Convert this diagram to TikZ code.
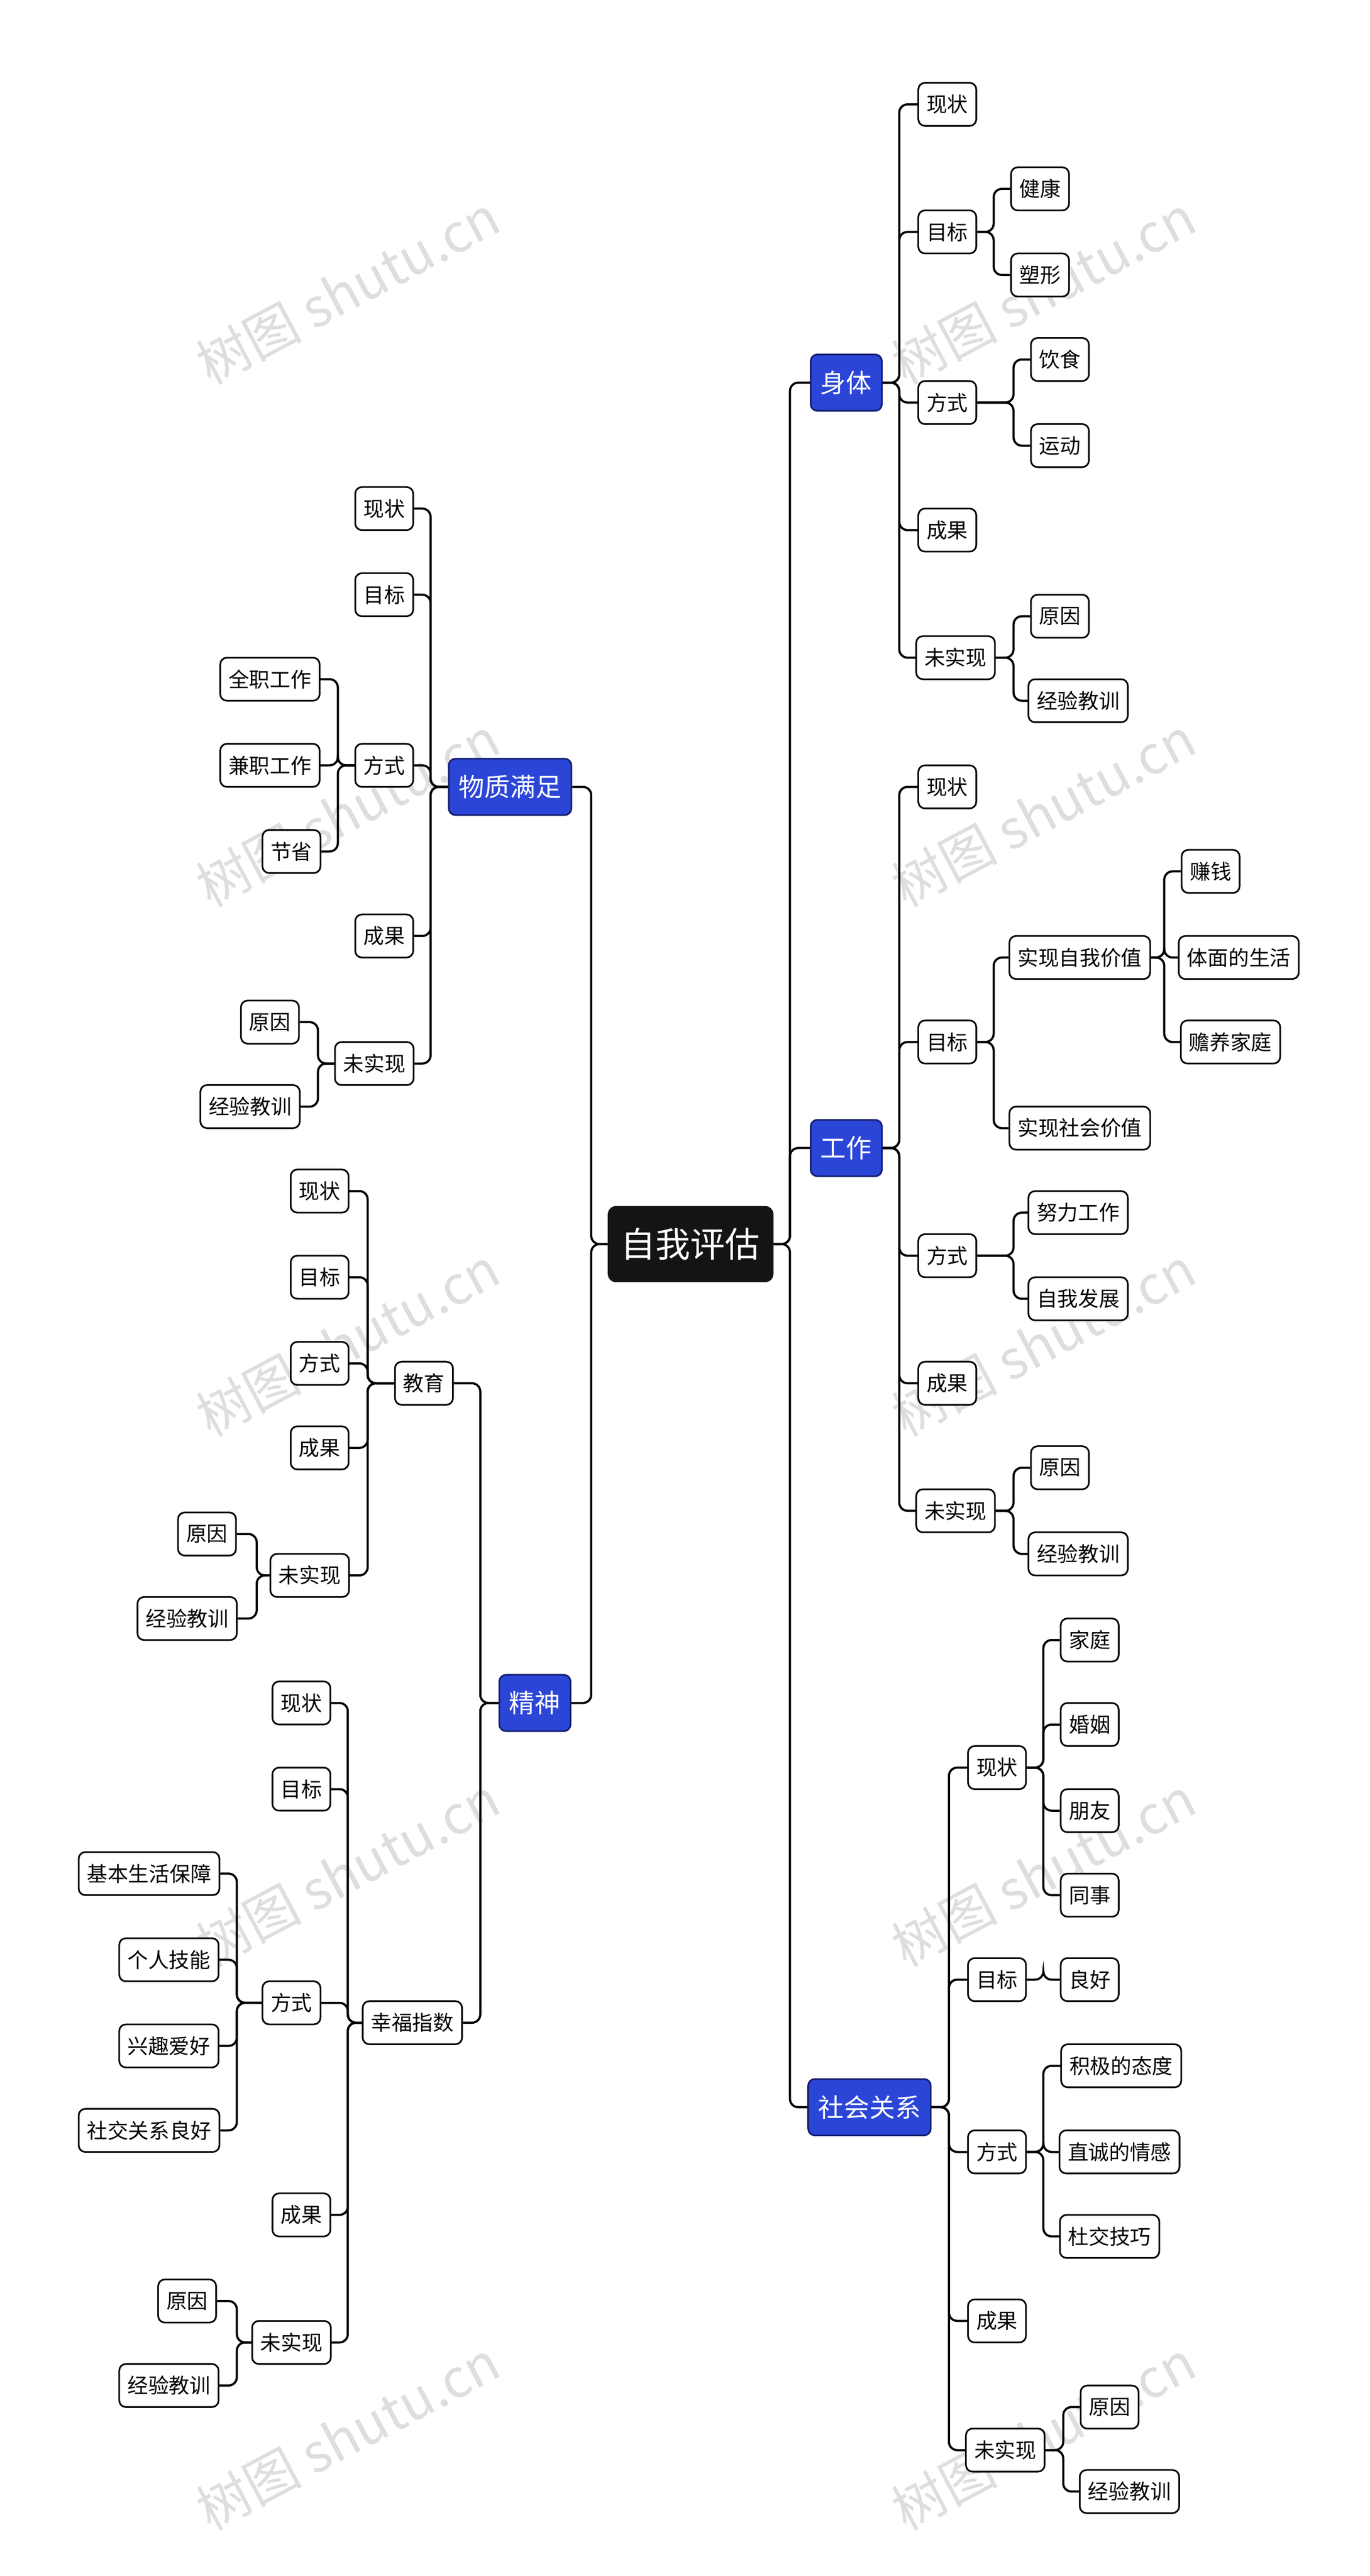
\documentclass[tikz,border=0pt]{standalone}
\usepackage{fontspec}
\setmainfont{Noto Sans CJK SC}
\definecolor{lblue}{RGB}{43,70,215}
\definecolor{lbord}{RGB}{20,30,110}
\begin{document}
\begin{tikzpicture}[x=1pt,y=-1pt,
 leaf/.style={draw=black,line width=1pt,fill=white,rounded corners=4pt,font=\fontsize{12.5}{14}\selectfont,inner xsep=5pt,minimum height=26pt},
 lone/.style={draw=lbord,line width=1pt,fill=lblue,text=white,rounded corners=4pt,font=\fontsize{15.5}{18}\selectfont,inner xsep=6pt,minimum height=34pt},
 conn/.style={line width=1.3pt,rounded corners=5pt},
 wm/.style={text=black!13,font=\fontsize{32}{36}\selectfont,rotate=28}]
\useasboundingbox (0,0) rectangle (827,1555);
\foreach \x in {210,630}{\foreach \y in {175,490,810,1130,1470}{\node[wm] at (\x,\y) {树图 shutu.cn};}}
\node[fill=black!92,text=white,rounded corners=5pt,minimum width=100pt,minimum height=46pt,font=\fontsize{21}{24}\selectfont] (root) at (417,751) {自我评估};
\node[lone] (A) at (511,231) {身体};
\node[lone] (B) at (511,693) {工作};
\node[lone] (C) at (525,1272) {社会关系};
\node[lone] (D) at (308,475) {物质满足};
\node[lone] (E) at (323,1028) {精神};
\newcommand\rch[3]{\coordinate (tt) at (#2,0);\foreach \c in {#3}{\draw[conn] (#1.east) -- (#1.east -| tt) |- (\c.west);}}
\newcommand\lch[3]{\coordinate (tt) at (#2,0);\foreach \c in {#3}{\draw[conn] (#1.west) -- (#1.west -| tt) |- (\c.east);}}
\rch{root}{477}{A,B,C}
\lch{root}{357}{D,E}
% 身体
\node[leaf] (a1) at (572,63) {现状};
\node[leaf] (a2) at (572,140) {目标};
\node[leaf] (a3) at (572,243) {方式};
\node[leaf] (a4) at (572,320) {成果};
\node[leaf] (a5) at (577,397) {未实现};
\node[leaf] (a21) at (628,114) {健康};
\node[leaf] (a22) at (628,166) {塑形};
\node[leaf] (a31) at (640,217) {饮食};
\node[leaf] (a32) at (640,269) {运动};
\node[leaf] (a51) at (640,372) {原因};
\node[leaf] (a52) at (651,423) {经验教训};
\rch{A}{543}{a1,a2,a3,a4,a5}
\rch{a2}{600}{a21,a22}
\rch{a3}{612}{a31,a32}
\rch{a5}{612}{a51,a52}
% 工作
\node[leaf] (b1) at (572,475) {现状};
\node[leaf] (b2) at (572,629) {目标};
\node[leaf] (b3) at (572,758) {方式};
\node[leaf] (b4) at (572,835) {成果};
\node[leaf] (b5) at (577,912) {未实现};
\node[leaf] (b21) at (652,578) {实现自我价值};
\node[leaf] (b22) at (652,681) {实现社会价值};
\node[leaf] (b211) at (731,526) {赚钱};
\node[leaf] (b212) at (748,578) {体面的生活};
\node[leaf] (b213) at (743,629) {赡养家庭};
\node[leaf] (b31) at (651,732) {努力工作};
\node[leaf] (b32) at (651,784) {自我发展};
\node[leaf] (b51) at (640,886) {原因};
\node[leaf] (b52) at (651,938) {经验教训};
\rch{B}{543}{b1,b2,b3,b4,b5}
\rch{b2}{600}{b21,b22}
\rch{b21}{703}{b211,b212,b213}
\rch{b3}{612}{b31,b32}
\rch{b5}{612}{b51,b52}
% 社会关系
\node[leaf] (c1) at (602,1067) {现状};
\node[leaf] (c2) at (602,1195) {目标};
\node[leaf] (c3) at (602,1299) {方式};
\node[leaf] (c4) at (602,1401) {成果};
\node[leaf] (c5) at (607,1479) {未实现};
\node[leaf] (c11) at (658,990) {家庭};
\node[leaf] (c12) at (658,1041) {婚姻};
\node[leaf] (c13) at (658,1093) {朋友};
\node[leaf] (c14) at (658,1144) {同事};
\node[leaf] (c21) at (658,1195) {良好};
\node[leaf] (c31) at (677,1247) {积极的态度};
\node[leaf] (c32) at (676,1299) {直诚的情感};
\node[leaf] (c33) at (670,1350) {杜交技巧};
\node[leaf] (c51) at (670,1453) {原因};
\node[leaf] (c52) at (682,1504) {经验教训};
\rch{C}{573}{c1,c2,c3,c4,c5}
\rch{c1}{630}{c11,c12,c13,c14}
\rch{c2}{630}{c21}
\rch{c3}{630}{c31,c32,c33}
\rch{c5}{642}{c51,c52}
% 物质满足
\node[leaf] (d1) at (232,307) {现状};
\node[leaf] (d2) at (232,359) {目标};
\node[leaf] (d3) at (232,462) {方式};
\node[leaf] (d4) at (232,565) {成果};
\node[leaf] (d5) at (226,642) {未实现};
\node[leaf] (d31) at (163,410) {全职工作};
\node[leaf] (d32) at (163,462) {兼职工作};
\node[leaf] (d33) at (176,514) {节省};
\node[leaf] (d51) at (163,617) {原因};
\node[leaf] (d52) at (151,668) {经验教训};
\lch{D}{260}{d1,d2,d3,d4,d5}
\lch{d3}{204}{d31,d32,d33}
\lch{d5}{192}{d51,d52}
% 精神
\node[leaf] (e1) at (256,835) {教育};
\node[leaf] (e2) at (249,1221) {幸福指数};
\lch{E}{290}{e1,e2}
\node[leaf] (e11) at (193,719) {现状};
\node[leaf] (e12) at (193,771) {目标};
\node[leaf] (e13) at (193,823) {方式};
\node[leaf] (e14) at (193,874) {成果};
\node[leaf] (e15) at (187,951) {未实现};
\node[leaf] (e151) at (125,926) {原因};
\node[leaf] (e152) at (113,977) {经验教训};
\lch{e1}{222}{e11,e12,e13,e14,e15}
\lch{e15}{155}{e151,e152}
\node[leaf] (e21) at (182,1028) {现状};
\node[leaf] (e22) at (182,1080) {目标};
\node[leaf] (e23) at (176,1209) {方式};
\node[leaf] (e24) at (182,1337) {成果};
\node[leaf] (e25) at (176,1414) {未实现};
\node[leaf] (e231) at (90,1131) {基本生活保障};
\node[leaf] (e232) at (102,1183) {个人技能};
\node[leaf] (e233) at (102,1235) {兴趣爱好};
\node[leaf] (e234) at (90,1286) {社交关系良好};
\node[leaf] (e251) at (113,1389) {原因};
\node[leaf] (e252) at (102,1440) {经验教训};
\lch{e2}{210}{e21,e22,e23,e24,e25}
\lch{e23}{143}{e231,e232,e233,e234}
\lch{e25}{143}{e251,e252}
\end{tikzpicture}
\end{document}
